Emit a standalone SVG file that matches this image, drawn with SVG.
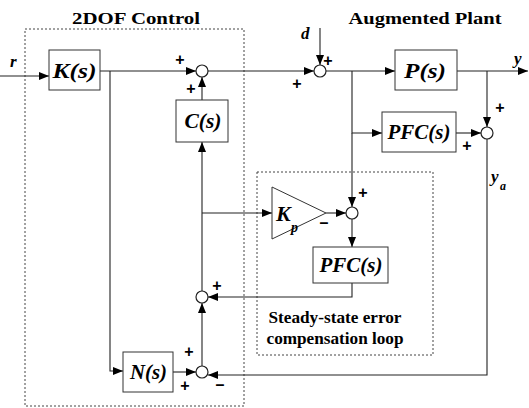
<svg xmlns="http://www.w3.org/2000/svg" width="529" height="408" viewBox="0 0 529 408" font-family="'Liberation Serif', 'DejaVu Serif', 'Times New Roman', serif">
<defs>
<marker id="ah" markerUnits="userSpaceOnUse" markerWidth="10" markerHeight="8" refX="10" refY="4" orient="auto">
<path d="M0,0 L10,4 L0,8 z" fill="#000"/>
</marker>
<style>
.blk{fill:#fff;stroke:#333;stroke-width:1}
.sum{fill:#fff;stroke:#222;stroke-width:1.2}
.arr{fill:none;stroke:#222;stroke-width:1.1;marker-end:url(#ah)}
.dot{fill:none;stroke:#444;stroke-width:1;stroke-dasharray:2,2}
text{font-family:'Liberation Serif','DejaVu Serif','Times New Roman',serif;font-weight:bold;fill:#000}
.lbl{font-style:italic;font-size:21px;text-anchor:middle}
.ttl{font-size:17px;text-anchor:middle}
.sg{font-family:'Liberation Sans','DejaVu Sans',sans-serif;font-size:16px;text-anchor:middle}
.var{font-style:italic;font-size:17px}
.big{font-size:22px}
.sub{font-size:14px}
.sub2{font-size:12px}
</style>
</defs>
<rect width="529" height="408" fill="#fff"/>

<g id="frames">
<rect class="dot" x="25" y="29" width="219" height="377"/>
<rect class="dot" x="257" y="172" width="176" height="183"/>
<text class="ttl" x="136" y="24" textLength="128" lengthAdjust="spacingAndGlyphs">2DOF Control</text>
<text class="ttl" x="425" y="24" textLength="153" lengthAdjust="spacingAndGlyphs">Augmented Plant</text>
<text class="ttl" x="335" y="323" textLength="133" lengthAdjust="spacingAndGlyphs">Steady-state error</text>
<text class="ttl" x="335" y="344" textLength="137" lengthAdjust="spacingAndGlyphs">compensation loop</text>
</g>

<g id="connectors">
<path class="arr" d="M0,76 H49"/>
<path class="arr" d="M100,71 H196"/>
<path class="arr" d="M202,100 V77"/>
<path class="arr" d="M208,71 H314"/>
<path class="arr" d="M320,28 V65"/>
<path class="arr" d="M326,71 H395"/>
<path class="arr" d="M457,71 H528"/>
<path class="arr" d="M487,71 V127"/>
<path class="arr" d="M352,71 V133 H382"/>
<path class="arr" d="M352,133 V207"/>
<path class="arr" d="M456,133 H481"/>
<path class="arr" d="M326,213 H346"/>
<path class="arr" d="M352,219 V247"/>
<path class="arr" d="M352,283 V297 H208"/>
<path class="arr" d="M202,291 V142"/>
<path class="arr" d="M202,213 H272"/>
<path class="arr" d="M202,366 V303"/>
<path class="arr" d="M110,71 V371 H123"/>
<path class="arr" d="M173,372 H196"/>
<path class="arr" d="M487,139 V375 H208"/>
</g>

<g id="K">
<rect class="blk" x="49" y="50" width="51" height="40"/>
<text class="lbl" x="74.5" y="78" textLength="44" lengthAdjust="spacingAndGlyphs">K(s)</text>
</g>
<g id="C">
<rect class="blk" x="176" y="100" width="52" height="42"/>
<text class="lbl" x="203" y="128" textLength="37" lengthAdjust="spacingAndGlyphs">C(s)</text>
</g>
<g id="P">
<rect class="blk" x="395" y="50" width="62" height="40"/>
<text class="lbl" x="425" y="78" textLength="42" lengthAdjust="spacingAndGlyphs">P(s)</text>
</g>
<g id="PFC1">
<rect class="blk" x="382" y="112" width="74" height="40"/>
<text class="lbl" x="419" y="139" textLength="63" lengthAdjust="spacingAndGlyphs">PFC(s)</text>
</g>
<g id="PFC2">
<rect class="blk" x="313" y="247" width="75" height="36"/>
<text class="lbl" x="351" y="272" textLength="63" lengthAdjust="spacingAndGlyphs">PFC(s)</text>
</g>
<g id="N">
<rect class="blk" x="123" y="352" width="50" height="40"/>
<text class="lbl" x="148.5" y="379" textLength="37" lengthAdjust="spacingAndGlyphs">N(s)</text>
</g>
<g id="Kp">
<polygon class="blk" points="272,187 272,239 326,213"/>
<text class="var big" x="276" y="221">K</text>
<text class="var sub" x="291" y="232">p</text>
</g>

<g id="sum1"><circle class="sum" cx="202" cy="71" r="6"/>
<text class="sg" x="180" y="65">+</text><text class="sg" x="191" y="94">+</text></g>
<g id="sum2"><circle class="sum" cx="320" cy="71" r="6"/>
<text class="sg" x="328" y="66">+</text><text class="sg" x="297" y="89">+</text></g>
<g id="sum3"><circle class="sum" cx="487" cy="133" r="6"/>
<text class="sg" x="500" y="113">+</text><text class="sg" x="467" y="151">+</text></g>
<g id="sum4"><circle class="sum" cx="352" cy="213" r="6"/>
<text class="sg" x="363" y="198">+</text><text class="sg" x="324" y="228">–</text></g>
<g id="sum5"><circle class="sum" cx="202" cy="297" r="6"/>
<text class="sg" x="217" y="291">+</text></g>
<g id="sum6"><circle class="sum" cx="202" cy="372" r="6"/>
<text class="sg" x="189" y="357">+</text><text class="sg" x="185" y="391">+</text><text class="sg" x="220" y="390">–</text></g>

<g id="signals">
<text class="var" x="10" y="67">r</text>
<text class="var" x="301" y="39">d</text>
<text class="var" x="514" y="64">y</text>
<text class="var" x="491" y="182">y</text>
<text class="var sub2" x="500" y="190">a</text>
</g>
</svg>
